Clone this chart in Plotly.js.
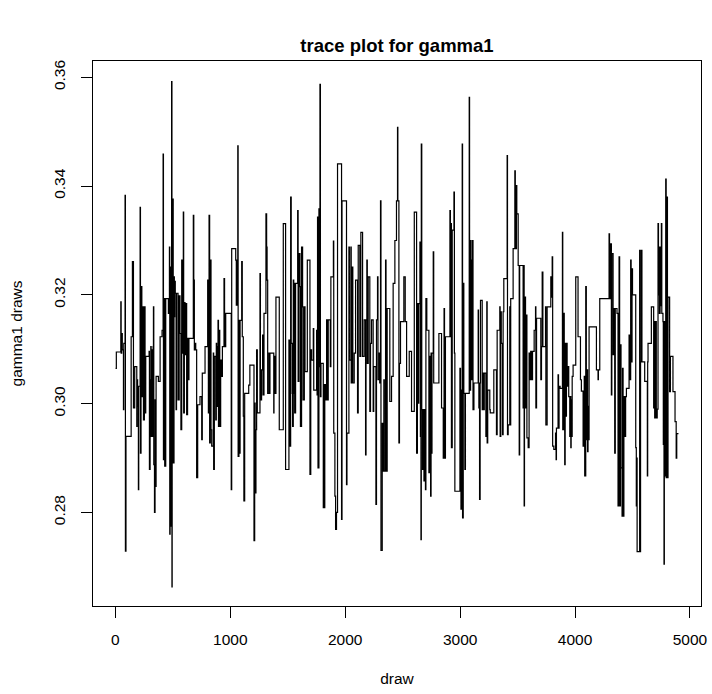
<!DOCTYPE html>
<html>
<head>
<meta charset="utf-8">
<script src="https://cdn.plot.ly/plotly-3.0.1.min.js"></script>
<style>html,body{margin:0;padding:0;background:#fff;}#chart{width:712px;height:694px;}</style>
</head>
<body>
<div id="chart"></div>
<script>
// MCMC draw index at each change point of the chain
var draws = [
1,8,47,50,55,60,70,73,84,87,92,137,148,157,168,186,189,193,200,203,215,218,223,227,230,235,244,252,258,264,293,296,302,308,311,317,319,328,331,334,340,345,349,354,374,389,406,415,418,426,429,438,461,470,473,476,481,484,489,492,494,497,500,503,510,513,516,521,528,532,
545,555,562,570,577,583,591,594,600,606,613,620,628,635,640,678,682,687,693,699,707,716,736,751,756,780,803,809,815,820,826,832,838,852,855,861,873,878,881,887,893,897,902,908,916,922,931,945,950,960,1008,1012,1047,1052,1060,1065,1068,1075,1080,1085,1099,1104,1113,1118,1125,1160,1170,
1206,1212,1216,1219,1223,1229,1235,1258,1262,1272,1281,1285,1293,1310,1316,1320,1325,1336,1340,1345,1378,1380,1388,1397,1426,1461,1481,1510,1515,1525,1530,1539,1542,1548,1552,1557,1560,1568,1586,1590,1597,1606,1610,1620,1629,1633,1644,1650,1670,1693,1700,1707,1722,1726,1751,1755,1759,1763,1771,1776,1780,1784,1789,1809,1814,1817,1822,1829,1838,1845,1852,
1870,1875,1897,1900,1910,1916,1924,1933,1968,1972,2011,2015,2032,2036,2049,2052,2061,2066,2078,2090,2107,2113,2127,2136,2151,2165,2177,2181,2188,2192,2200,2214,2220,2229,2243,2248,2267,2272,2281,2285,2296,2300,2307,2311,2322,2326,2336,2340,2351,2355,2365,2388,2403,2417,2432,2446,2455,2458,2467,2472,2481,2510,
2522,2534,2557,2577,2601,2621,2628,2635,2640,2650,2654,2659,2662,2666,2673,2679,2685,2693,2698,2702,2710,2728,2735,2743,2747,2751,2755,2766,2770,2815,2838,2853,2860,2864,2867,2872,2911,2915,2920,2924,2931,2946,2950,2954,2998,3003,3007,3012,3018,3021,3027,3032,3041,3046,3079,3082,3091,3095,3099,3104,3108,3112,3120,3157,
3160,3163,3166,3169,3174,3177,3192,3197,3206,3210,3224,3228,3232,3235,3240,3258,3262,3293,3316,3322,3345,3348,3354,3358,3369,3374,3380,3409,3412,3418,3432,3436,3440,3461,3476,3480,3490,3493,3505,3514,3518,3548,3552,3557,3560,3569,3577,3581,3592,3600,3606,3614,3621,3630,3644,3656,3659,3665,3702,3708,3714,3720,3743,3746,3757,3789,3795,3801,3805,3815,
3830,3835,3838,3852,3856,3861,3870,3890,3893,3902,3906,3910,3914,3919,3925,3931,3940,3945,3954,3958,3963,3966,3971,3975,3983,4006,4026,4047,4055,4070,4080,4084,4093,4098,4105,4109,4113,4118,4122,4186,4200,4203,4215,4296,4300,4308,4316,4320,4331,4340,4345,4350,4365,4374,4380,4383,4388,4395,4400,4409,4413,4418,4425,4432,4440,4447,
4470,4480,4484,4488,4496,4500,4528,4533,4536,4540,4562,4566,4570,4577,4582,4606,4629,4632,4635,4664,4684,4690,4693,4700,4707,4715,4722,4726,4730,4734,4740,4745,4751,4755,4765,4768,4774,4777,4785,4789,4793,4800,4804,4809,4823,4830,4852,4870,4880,4885,4900
];
// gamma1 value held from each change point on
var gamma1 = [
.3065,.3095,.3187,.3093,.3129,.3099,.2989,.3111,.3383,.2729,.2940,.3123,.3261,.2992,.3068,.2958,.3044,.2995,.2842,.3032,.3361,.2909,.3111,.3215,.3013,.3178,.2970,.3178,.2983,.3087,.3096,.2879,.3044,.3105,.2940,.3099,.2940,.3105,.3178,.2888,.2800,.3007,.2848,.3050,.3041,.3123,.3135,.3459,.2897,.3193,.2885,.3193,.3166,.3288,.2760,.3251,.2775,.3205,.3592,.2663,.3264,.3080,.3376,.2891,.3233,.3160,.3225,.3203,.2989,.3203,
.3007,.3198,.3129,.2952,.3264,.3093,.3352,.2983,.3186,.3090,.3184,.2980,.3120,.3044,.3120,.3346,.3227,.3099,.3111,.3099,.2864,.2998,.3013,.2934,.3056,.3105,.3227,.2983,.3346,.2928,.3264,.2952,.2922,.3093,.2879,.3087,.2970,.3111,.2995,.3105,.3153,.2958,.3135,.2958,.3080,.3050,.3105,.3230,.3105,.3166,.2842,.3285,.3264,.3181,.3264,.3474,.2903,.3153,.2909,.3153,.3261,.3123,.2977,.2821,.3019,.3034,.3071,
.2748,.3001,.2952,.2836,.2952,.3099,.2983,.3239,.3007,.3062,.3126,.3016,.3166,.3349,.3288,.3227,.3019,.3093,.3019,.3093,.2983,.3087,.3019,.3196,.2952,.3331,.2879,.3117,.2922,.3380,.3111,.3019,.2958,.3227,.3019,.3221,.2983,.3221,.3355,.3041,.3276,.3215,.2958,.3288,.3178,.3007,.3178,.3059,.3264,.2870,.3099,.3080,.3138,.3025,.3135,.3016,.3343,.2882,.3358,.3068,.3587,.3013,.3074,.2809,.3035,.2809,.3035,.3007,.3154,.3007,.3154,
.3068,.3233,.3299,.2946,.2830,.2769,.2800,.3441,.2787,.3373,.2851,.2946,.3288,.3080,.3288,.3038,.3251,.3038,.3093,.3227,.2983,.3291,.3087,.3315,.3087,.3154,.2906,.3154,.3264,.3074,.3233,.2986,.3111,.3154,.2986,.3068,.2815,.3154,.3233,.3044,.3093,.3038,.3373,.2730,.2964,.2876,.3044,.2876,.3264,.2876,.3175,.3004,.3050,.3221,.3300,.3373,.3508,.3373,.2928,.3074,.3151,.3233,
.3151,.3050,.3096,.2986,.3352,.2909,.3184,.3001,.3184,.3297,.2940,.2750,.3477,.2989,.2879,.2989,.2858,.2989,.2842,.3193,.3135,.2873,.3087,.2830,.3093,.2909,.3093,.3279,.3038,.3129,.2992,.2900,.3175,.3111,.2900,.3123,.3355,.3123,.3331,.2919,.3319,.3389,.3093,.2839,.3065,.3025,.2806,.3025,.3477,.2790,.3221,.3019,.2879,.3019,.3563,.3025,.3300,.3264,.3044,.3264,.3300,.2989,.3038,.3172,
.3038,.2992,.3038,.2824,.3038,.3190,.2989,.3056,.2989,.3056,.2940,.3056,.3187,.2928,.3025,.2989,.2983,.3062,.2943,.3135,.3178,.2940,.3169,.3111,.2943,.3169,.3230,.3456,.2943,.2961,.3178,.2961,.3193,.3285,.3428,.3285,.3401,.3349,.3254,.2906,.3254,.2992,.3254,.2812,.3196,.2992,.3163,.2937,.2919,.3093,.3044,.3096,.3044,.3096,.3135,.3178,.2992,.3157,.3044,.3105,.3242,.3105,.3178,.2961,.3178,.3233,.3196,.3270,.2922,.2916,
.2946,.2897,.2955,.3053,.2955,.3032,.3028,.3315,.2952,.3166,.2960,.2888,.3111,.2977,.3111,.3032,.3068,.3013,.2940,.3013,.2919,.3007,.2940,.3050,.3071,.3233,.3123,.3044,.3023,.2922,.3050,.2867,.3215,.2934,.3062,.2912,.2995,.2934,.3141,.3062,.3044,.3062,.3193,.3312,.3193,.3294,.3016,.3276,.3090,.3175,.2909,.3175,.3166,.2812,.2909,.3270,.2812,.3108,.2882,.2793,.3065,.2793,.3013,.2940,.3013,.3028,
.3126,.3044,.3264,.3077,.3248,.3200,.2919,.2812,.2900,.2728,.3282,.2728,.3077,.3282,.3077,.3041,.2867,.3077,.3111,.3178,.2992,.3151,.2974,.3151,.2974,.2990,.3331,.3200,.3288,.3166,.3288,.3180,.3331,.3166,.3151,.2925,.2705,.3151,.2867,.3413,.2864,.3380,.2864,.3196,.3022,.3087,.3022,.2967,.2900,.2945,.2945
];
var xTicks = [0, 1000, 2000, 3000, 4000, 5000];
var xTickText = ["0", "1000", "2000", "3000", "4000", "5000"];
var yTicks = [0.28, 0.30, 0.32, 0.34, 0.36];
var yTickText = ["0.28", "0.30", "0.32", "0.34", "0.36"];

var FONT = "Liberation Sans, Arial, Helvetica, sans-serif";
var trace = {
  x: draws, y: gamma1, type: "scatter", mode: "lines",
  line: {color: "#000000", width: 1.2, shape: "hv"},
  hoverinfo: "x+y"
};
var layout = {
  width: 712, height: 694,
  margin: {l: 93, r: 11, t: 61, b: 88, pad: 0},
  paper_bgcolor: "#ffffff", plot_bgcolor: "#ffffff",
  showlegend: false,
  font: {family: FONT, size: 15.5, color: "#000000"},
  title: {text: "<b>trace plot for gamma1</b>", font: {family: FONT, size: 18.5, color: "#000000"},
          x: 0.5, xref: "paper", y: 1 - 46/694, yref: "container", yanchor: "middle"},
  xaxis: {
    range: [-195, 5096], autorange: false,
    tickmode: "array", tickvals: xTicks, ticktext: xTickText,
    ticks: "outside", ticklen: 11, tickwidth: 1, tickcolor: "#000000",
    showline: true, mirror: true, linecolor: "#000000", linewidth: 1,
    showgrid: false, zeroline: false, automargin: false,
    ticklabelstandoff: 8,
    tickfont: {family: FONT, size: 15.5, color: "#000000"},
    title: {text: "draw", standoff: 26, font: {family: FONT, size: 15.5, color: "#000000"}}
  },
  yaxis: {
    range: [0.2628, 0.3630], autorange: false,
    tickmode: "array", tickvals: yTicks, ticktext: yTickText,
    ticks: "outside", ticklen: 11, tickwidth: 1, tickcolor: "#000000", tickangle: -90,
    showline: true, mirror: true, linecolor: "#000000", linewidth: 1,
    showgrid: false, zeroline: false, automargin: false,
    ticklabelstandoff: 10,
    tickfont: {family: FONT, size: 15.5, color: "#000000"},
    title: {text: "gamma1 draws", standoff: 24, font: {family: FONT, size: 15.5, color: "#000000"}}
  }
};
Plotly.newPlot("chart", [trace], layout, {staticPlot: true, displayModeBar: false});
</script>
</body>
</html>
